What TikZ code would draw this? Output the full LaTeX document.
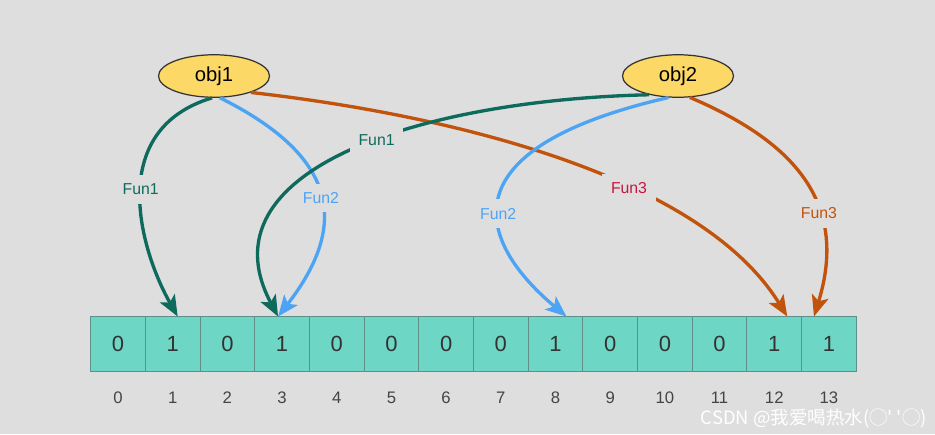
\documentclass[tikz,border=0pt]{standalone}
\usepackage{fontspec}
\setmainfont{Liberation Sans}
\newfontfamily\cjkfont{Noto Sans CJK SC}
\usepackage{tikz}
\usetikzlibrary{positioning, shapes.geometric, arrows.meta}
\definecolor{bgGrey}{HTML}{DEDEDE}
\definecolor{cellTeal}{HTML}{6ED6C5}
\definecolor{cellEdge}{HTML}{5E8F88}
\definecolor{objYellow}{HTML}{FCD866}
\definecolor{funTeal}{HTML}{0D6A5C}
\definecolor{funBlue}{HTML}{4DA4F5}
\definecolor{funOrange}{HTML}{C2530D}
\definecolor{funRed}{HTML}{C8163E}
\definecolor{idxGrey}{HTML}{444444}

\begin{document}
\begin{tikzpicture}[x=0.02cm, y=-0.02cm,
  cell/.style={draw=cellEdge, fill=cellTeal, line width=0.6pt, outer sep=0pt, minimum width=1.094cm, minimum height=1.1cm, inner sep=0pt, text=black!80, font=\fontsize{12.5}{14}\selectfont},
  idx/.style={text=idxGrey, font=\fontsize{9.5}{11}\selectfont},
  obj/.style={ellipse, draw=black!80, fill=objYellow, line width=0.7pt, minimum width=2.22cm, minimum height=0.85cm, inner sep=0pt, font=\fontsize{11.5}{13}\selectfont},
  link/.style={line width=1.9pt, -{Stealth[length=4.2mm, width=3.4mm, inset=1mm]}},
  lbl/.style={fill=bgGrey, inner sep=5pt, font=\fontsize{9}{10}\selectfont}]
  % background
  \fill[bgGrey] (0,0) rectangle (935,434);
  % bit array
  \node[cell] (c0) at (118,344) {0};
  \foreach \b [count=\i from 1] in {1,0,1,0,0,0,0,1,0,0,0,1,1} {
    \pgfmathtruncatemacro\prev{\i-1}
    \node[cell, right=0pt of c\prev] (c\i) {\b};
  }
  \foreach \i in {0,...,13}
    \node[idx, below=0.29cm of c\i] (n\i) {\i};
  % objects
  \node[obj] (obj1) at (214,76) {obj1};
  \node[obj] (obj2) at (678,76) {obj2};
  % hash functions of obj1
  \draw[link, funTeal] (obj1.265) .. controls (105,130) and (140,250) .. node[lbl, text=funTeal, pos=0.48] {Fun1} ([xshift=0.1cm]c1.north);
  \draw[link, funBlue] (obj1.285) .. controls (345,160) and (345,230) .. node[lbl, text=funBlue, pos=0.5] {Fun2} ([xshift=-0.08cm]c3.north);
  \draw[link, funOrange] (obj1.-24) .. controls (450,115) and (700,175) .. node[lbl, text=funRed, pos=0.62] {Fun3} ([xshift=0.26cm]c12.north);
  % hash functions of obj2
  \draw[link, funTeal] (obj2.213) .. controls (420,100) and (200,170) .. node[lbl, text=funTeal, pos=0.44] {Fun1} ([xshift=-0.08cm]c3.north);
  \draw[link, funBlue] (obj2.246) .. controls (440,150) and (480,244) .. node[lbl, text=funBlue, pos=0.56] {Fun2} ([xshift=0.22cm]c8.north);
  \draw[link, funOrange] (obj2.-61) .. controls (790,140) and (850,200) .. node[lbl, text=funOrange, pos=0.65] {Fun3} ([xshift=-0.3cm]c13.north);
  % watermark
  \node[anchor=east, text=white, font=\cjkfont\fontsize{10.5}{12}\selectfont] (wm) at (933,418) {CSDN @我爱喝热水(◯' '◯)};
\end{tikzpicture}
\end{document}
